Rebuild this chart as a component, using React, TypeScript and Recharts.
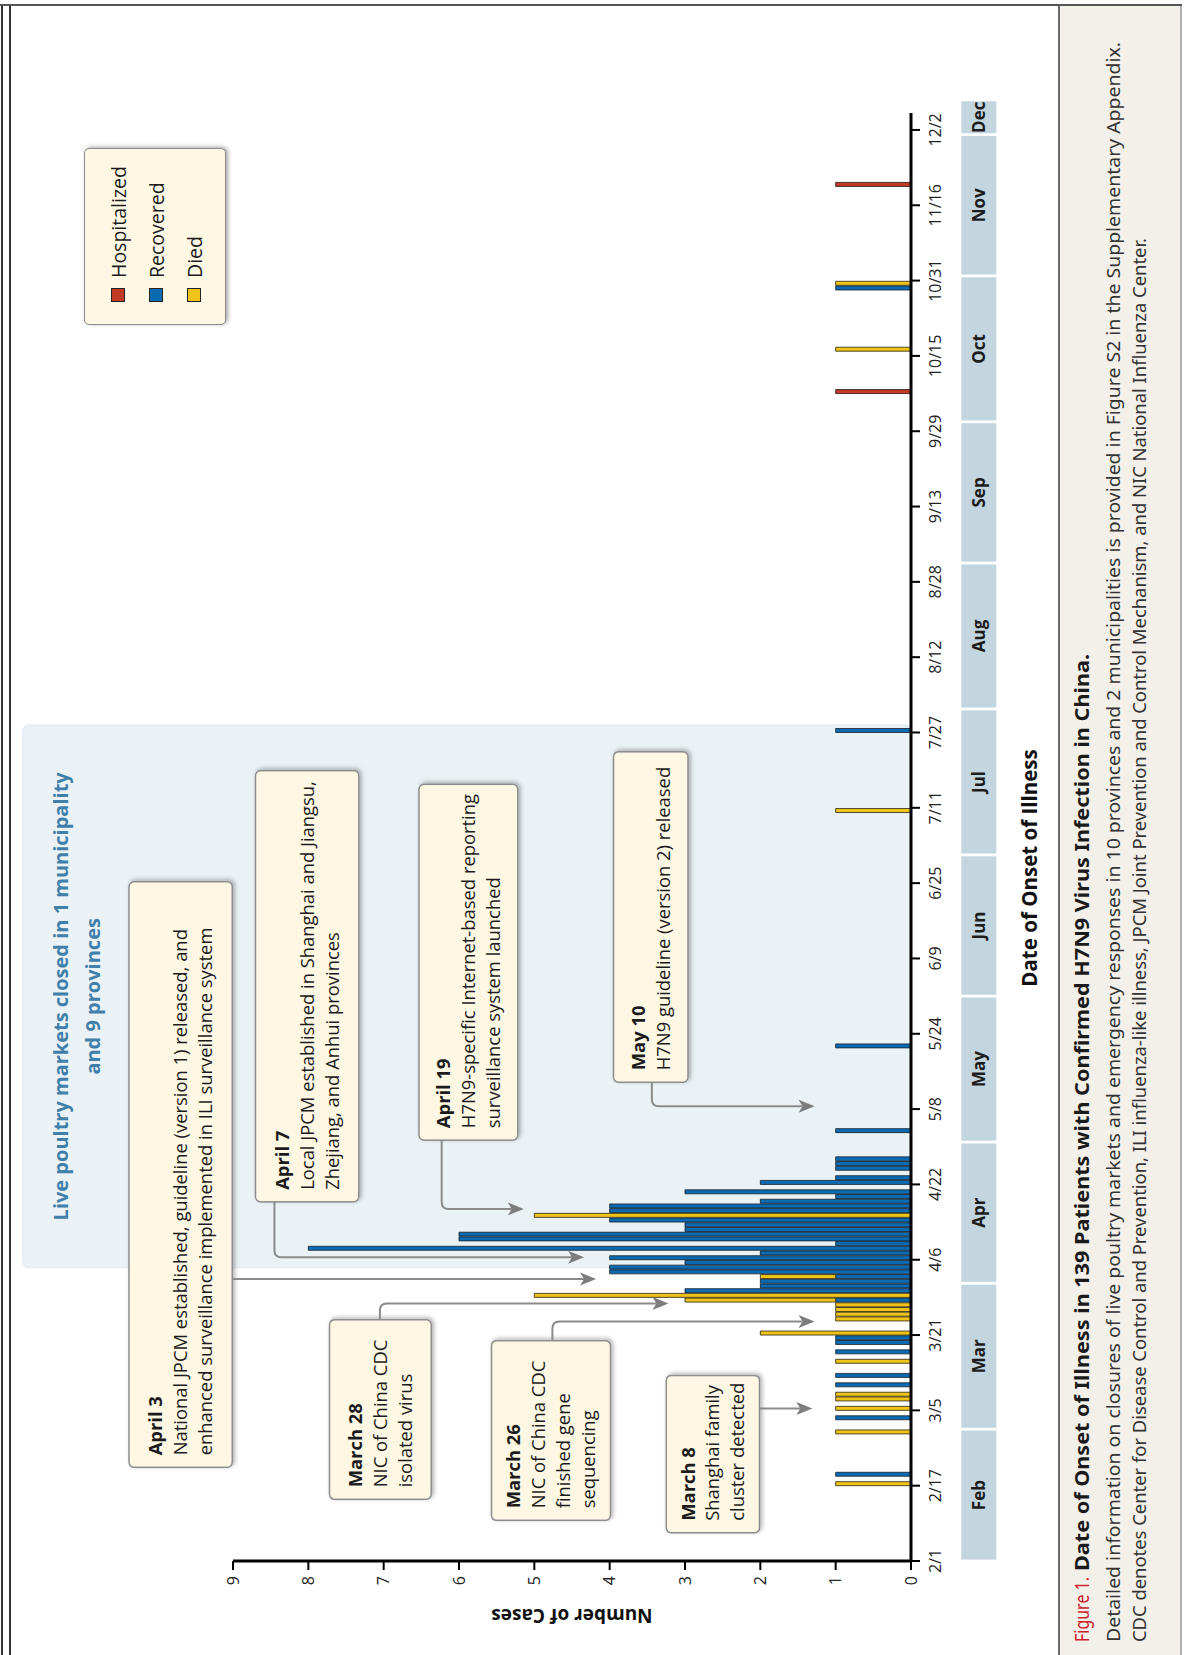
import React from 'react'
import { ComposedChart, Bar, XAxis, YAxis, ReferenceArea, ReferenceLine, Legend, Label } from 'recharts'

// one entry per day of onset
const onsetDates = [
  '2/17', '2/19', '2/28', '3/3', '3/5', '3/7', '3/8', '3/10', '3/12', '3/15',
  '3/17', '3/19', '3/20', '3/21', '3/24', '3/25', '3/26', '3/27', '3/28', '3/29',
  '3/30', '3/31', '4/1', '4/2', '4/3', '4/4', '4/5', '4/6', '4/7', '4/8',
  '4/9', '4/10', '4/11', '4/12', '4/13', '4/14', '4/15', '4/16', '4/17', '4/18',
  '4/19', '4/20', '4/22', '4/23', '4/25', '4/26', '4/27', '5/3', '5/21', '7/10',
  '7/27', '10/7', '10/16', '10/29', '10/30', '11/20',
]
const recovered = [
  0, 1, 0, 1, 0, 0, 0, 1, 1, 0,
  1, 1, 1, 0, 0, 0, 0, 0, 1, 0,
  3, 2, 2, 1, 4, 4, 3, 4, 2, 8,
  1, 6, 6, 3, 3, 4, 0, 4, 4, 2,
  1, 3, 2, 1, 1, 1, 1, 1, 1, 0,
  1, 0, 0, 1, 0, 0,
]
const died = [
  1, 0, 1, 0, 1, 1, 1, 0, 0, 1,
  0, 0, 0, 2, 1, 1, 1, 1, 2, 5,
  0, 0, 0, 1, 0, 0, 0, 0, 0, 0,
  0, 0, 0, 0, 0, 0, 5, 0, 0, 0,
  0, 0, 0, 0, 0, 0, 0, 0, 0, 1,
  0, 0, 1, 0, 1, 0,
]
const hospitalized = [
  0, 0, 0, 0, 0, 0, 0, 0, 0, 0,
  0, 0, 0, 0, 0, 0, 0, 0, 0, 0,
  0, 0, 0, 0, 0, 0, 0, 0, 0, 0,
  0, 0, 0, 0, 0, 0, 0, 0, 0, 0,
  0, 0, 0, 0, 0, 0, 0, 0, 0, 0,
  0, 1, 0, 0, 0, 1,
]

const tickDays = [0, 16, 32, 48, 64, 80, 96, 112, 128, 144, 160, 176, 192, 208, 224, 240, 256, 272, 288, 304]
const tickLabels = ['2/1', '2/17', '3/5', '3/21', '4/6', '4/22', '5/8', '5/24', '6/9', '6/25', '7/11', '7/27', '8/12', '8/28', '9/13', '9/29', '10/15', '10/31', '11/16', '12/2']
const valueTicks = [0, 1, 2, 3, 4, 5, 6, 7, 8, 9]

const monthNames = ['Feb', 'Mar', 'Apr', 'May', 'Jun', 'Jul', 'Aug', 'Sep', 'Oct', 'Nov', 'Dec']
const monthNums = [2, 3, 4, 5, 6, 7, 8, 9, 10, 11, 12]
// day index (from Feb 1, 2013) of each month's first day
const monthStart: Record<number, number> = { 2: 0, 3: 28, 4: 59, 5: 89, 6: 120, 7: 150, 8: 181, 9: 212, 10: 242, 11: 273, 12: 303, 13: 310.4 }

const legendNames = ['Hospitalized', 'Recovered', 'Died']

const BLUE = '#0b6bb2'
const YELLOW = '#efc318'
const RED = '#c23a25'
const FONT = "'Open Sans', 'Noto Sans', sans-serif"

const W = 1655
const H = 1185

const dayOf = (md: string) => {
  const [m, d] = md.split('/').map(Number)
  return monthStart[m] + d - 1
}

const chartData = onsetDates.map((md, i) => ({
  day: dayOf(md) + 0.5,
  recovered: recovered[i],
  died: died[i],
  hospitalized: hospitalized[i],
}))

const monthBands = monthNames.map((name, i) => ({
  name,
  from: monthStart[monthNums[i]],
  to: monthStart[monthNums[i] + 1],
}))

// annotation boxes: extents in chart units (days, cases), arrow from box edge to the event
const notes = [
  { x1: 19.9, x2: 144.3, y1: 9.01, y2: 10.38, lines: ['April 3', 'National JPCM established, guideline (version 1) released, and', 'enhanced surveillance implemented in ILI surveillance system'], from: { x: 59.9, y: 9.01 }, to: { x: 59.9, y: 4.18 } },
  { x1: 76.3, x2: 167.9, y1: 7.33, y2: 8.7, lines: ['April 7', 'Local JPCM established in Shanghai and Jiangsu,', 'Zhejiang, and Anhui provinces'], from: { x: 76.3, y: 8.45 }, to: { x: 64.5, y: 4.34 } },
  { x1: 89.4, x2: 165.0, y1: 5.22, y2: 6.53, lines: ['April 19', 'H7N9-specific Internet-based reporting', 'surveillance system launched'], from: { x: 89.4, y: 6.23 }, to: { x: 74.8, y: 5.14 } },
  { x1: 101.7, x2: 171.9, y1: 2.96, y2: 3.95, lines: ['May 10', 'H7N9 guideline (version 2) released'], from: { x: 101.7, y: 3.44 }, to: { x: 96.6, y: 1.28 } },
  { x1: 13.1, x2: 51.25, y1: 6.37, y2: 7.72, lines: ['March 28', 'NIC of China CDC', 'isolated virus'], from: { x: 51.25, y: 7.05 }, to: { x: 54.7, y: 3.22 } },
  { x1: 8.64, x2: 46.8, y1: 3.99, y2: 5.57, lines: ['March 26', 'NIC of China CDC', 'finished gene', 'sequencing'], from: { x: 46.8, y: 4.76 }, to: { x: 50.9, y: 1.28 } },
  { x1: 6.0, x2: 39.4, y1: 2.01, y2: 3.25, lines: ['March 8', 'Shanghai family', 'cluster detected'], from: { x: 32.4, y: 2.01 }, to: { x: 32.4, y: 1.31 } },
]

const closure = { x1: 62.3, x2: 177.6, y2: 11.79, lines: ['Live poultry markets closed in 1 municipality', 'and 9 provinces'] }

function NoteBox(props: any) {
  const { x, y, width, height, lines } = props
  const lh = 24.8
  const first = y + height / 2 - ((lines.length - 1) * lh) / 2 + 6.5
  return (
    <g>
      <rect x={x} y={y} width={width} height={height} rx={5} fill="#fdf7e4" stroke="#8d8d8d" strokeWidth={1.5} filter="url(#boxShadow)" />
      {lines.map((t: string, i: number) => (
        <text key={i} x={x + 12} y={first + i * lh} fontSize={18.4} fontWeight={i === 0 ? 700 : 400} fill="#1b1b1b" fontFamily={FONT}>
          {t}
        </text>
      ))}
    </g>
  )
}

function Leader(props: any) {
  const { x1, y1, x2, y2 } = props
  const r = 7
  const head = 15
  let d: string
  if (Math.abs(x1 - x2) < 1.5) {
    d = `M${x2},${y1} V${y2 - head + 3}`
  } else {
    const s = x2 > x1 ? 1 : -1
    d = `M${x1},${y1} H${x2 - s * r} Q${x2},${y1} ${x2},${y1 + r} V${y2 - head + 3}`
  }
  return (
    <g>
      <path d={d} fill="none" stroke="#8b8b8b" strokeWidth={2} />
      <path d={`M${x2},${y2} L${x2 - 6.5},${y2 - 16} L${x2},${y2 - 12} L${x2 + 6.5},${y2 - 16} Z`} fill="#7c7c7c" />
    </g>
  )
}

function MonthBand(props: any) {
  const { x, y, width, height, name } = props
  return (
    <g>
      <rect x={x} y={y} width={width} height={height} fill="#c3d5df" />
      <text x={x + width / 2} y={y + height / 2 + 6} textAnchor="middle" fontSize={17} fontWeight={700} fill="#1c1c1c" fontFamily={FONT}>
        {name}
      </text>
    </g>
  )
}

function ClosureArea(props: any) {
  const { x, y, width, height } = props
  return (
    <g>
      <rect x={x} y={y} width={width} height={height} rx={6} fill="#eaf2f6" stroke="#dde8ee" strokeWidth={1} />
      {closure.lines.map((t, i) => (
        <text key={i} x={x + width / 2} y={y + 45 + i * 32} textAnchor="middle" fontSize={20} fontWeight={700} fill="#3f7fa9" fontFamily={FONT}>
          {t}
        </text>
      ))}
    </g>
  )
}

function LegendBox() {
  const colors = [RED, BLUE, YELLOW]
  return (
    <div style={{ width: 177, height: 142, boxSizing: 'border-box', background: '#fdf7e4', border: '1.5px solid #8d8d8d', borderRadius: 5, boxShadow: '1px 2px 4px rgba(0,0,0,0.35)', paddingTop: 14, paddingLeft: 22, fontFamily: FONT }}>
      {legendNames.map((n, i) => (
        <div key={n} style={{ display: 'flex', alignItems: 'center', height: 38 }}>
          <span style={{ width: 12, height: 12, background: colors[i], border: '1px solid #222', marginRight: 10 }} />
          <span style={{ fontSize: 19.5, color: '#1b1b1b' }}>{n}</span>
        </div>
      ))}
    </div>
  )
}

function DateLabel(props: any) {
  const vb = props.viewBox
  return (
    <text x={vb.x + vb.width * 0.4786} y={vb.y + 126} textAnchor="middle" fontSize={20.5} fontWeight={700} fill="#111" fontFamily={FONT}>
      Date of Onset of Illness
    </text>
  )
}

function CasesLabel(props: any) {
  const vb = props.viewBox
  const cx = vb.x + 39
  const cy = vb.y + vb.height / 2
  return (
    <text x={cx} y={cy} transform={`rotate(-90 ${cx} ${cy})`} textAnchor="middle" dominantBaseline="central" fontSize={19} fontWeight={700} fill="#111" fontFamily={FONT}>
      Number of Cases
    </text>
  )
}

function FigureFrame() {
  return (
    <svg width={W} height={H} style={{ position: 'absolute', left: 0, top: 0 }}>
      <defs>
        <filter id="boxShadow" x="-10%" y="-10%" width="130%" height="130%">
          <feDropShadow dx="1.5" dy="2" stdDeviation="2" floodColor="#000" floodOpacity="0.3" />
        </filter>
      </defs>
      <rect x={0} y={1059} width={1650} height={122} fill="#f3f0ea" />
      <line x1={0} x2={1650} y1={1059} y2={1059} stroke="#6a6a6a" strokeWidth={2} />
      <line x1={0} x2={1650} y1={1181} y2={1181} stroke="#9a9a9a" strokeWidth={1.5} />
      <line x1={0} x2={1650} y1={2} y2={2} stroke="#333" strokeWidth={2} />
      <line x1={0} x2={1650} y1={10} y2={10} stroke="#333" strokeWidth={2} />
      <line x1={1650} x2={1650} y1={0} y2={1182} stroke="#555" strokeWidth={2} />
      <text x={13} y={1089} fontSize={19} fill="#cf2230" fontFamily="'Noto Sans', sans-serif" textLength={65} lengthAdjust="spacingAndGlyphs">
        Figure 1.
      </text>
      <text x={84} y={1089} fontSize={19} fontWeight={700} fill="#1a1a1a" fontFamily="'Noto Sans', sans-serif" textLength={917} lengthAdjust="spacingAndGlyphs">
        Date of Onset of Illness in 139 Patients with Confirmed H7N9 Virus Infection in China.
      </text>
      <text x={13} y={1120} fontSize={18} fill="#333" fontFamily="'Noto Sans', sans-serif" textLength={1600} lengthAdjust="spacingAndGlyphs">
        Detailed information on closures of live poultry markets and emergency responses in 10 provinces and 2 municipalities is provided in Figure S2 in the Supplementary Appendix.
      </text>
      <text x={13} y={1146} fontSize={18} fill="#333" fontFamily="'Noto Sans', sans-serif" textLength={1404} lengthAdjust="spacingAndGlyphs">
        CDC denotes Center for Disease Control and Prevention, ILI influenza-like illness, JPCM Joint Prevention and Control Mechanism, and NIC National Influenza Center.
      </text>
    </svg>
  )
}

export default function App() {
  return (
    <div style={{ position: 'absolute', left: 0, top: 0, width: 1185, height: 1655, overflow: 'hidden', background: '#fff' }}>
      <style>{'body{margin:0;overflow:hidden}'}</style>
      <div style={{ position: 'absolute', left: 0, top: 0, width: W, height: H, transformOrigin: '0 0', transform: `translateY(${W}px) rotate(-90deg)` }}>
        <FigureFrame />
        <div style={{ position: 'absolute', left: 0, top: 0 }}>
          <ComposedChart width={W} height={H} data={chartData} margin={{ top: 233, right: 113, bottom: 244, left: 0 }} style={{ fontFamily: FONT }}>
            <ReferenceArea x1={closure.x1} x2={closure.x2} y1={0} y2={closure.y2} ifOverflow="visible" shape={(p: any) => <ClosureArea {...p} />} />
            {monthBands.map((m) => (
              <ReferenceArea key={m.name} x1={m.from + 0.3} x2={m.to - 0.3} y1={-0.668} y2={-1.133} ifOverflow="visible" shape={(p: any) => <MonthBand {...p} name={m.name} />} />
            ))}
            <XAxis
              type="number"
              dataKey="day"
              domain={[0, 307.6]}
              ticks={tickDays}
              tickFormatter={(v: number) => tickLabels[tickDays.indexOf(v)]}
              interval={0}
              height={30}
              axisLine={{ stroke: '#000', strokeWidth: 3 }}
              tickLine={{ stroke: '#000', strokeWidth: 2 }}
              tickSize={9}
              tickMargin={10}
              tick={{ fontSize: 16, fill: '#222' }}
              allowDataOverflow
            >
              <Label content={(p: any) => <DateLabel {...p} />} />
            </XAxis>
            <YAxis
              type="number"
              domain={[0, 9]}
              ticks={valueTicks}
              interval={0}
              width={94}
              axisLine={{ stroke: '#000', strokeWidth: 3 }}
              tickLine={{ stroke: '#000', strokeWidth: 2 }}
              tickSize={9}
              tickMargin={6}
              tick={{ fontSize: 16, fill: '#222' }}
              allowDataOverflow
            >
              <Label content={(p: any) => <CasesLabel {...p} />} />
            </YAxis>
            <Bar dataKey="recovered" stackId="a" fill={BLUE} stroke="#16202a" strokeWidth={0.8} barSize={4} isAnimationActive={false} />
            <Bar dataKey="died" stackId="a" fill={YELLOW} stroke="#2a2410" strokeWidth={0.8} barSize={4} isAnimationActive={false} />
            <Bar dataKey="hospitalized" stackId="a" fill={RED} stroke="#2a1510" strokeWidth={0.8} barSize={4} isAnimationActive={false} />
            {notes.map((n, i) => (
              <ReferenceLine key={`l${i}`} segment={[n.from, n.to]} ifOverflow="visible" shape={(p: any) => <Leader {...p} />} />
            ))}
            {notes.map((n, i) => (
              <ReferenceArea key={`n${i}`} x1={n.x1} x2={n.x2} y1={n.y1} y2={n.y2} ifOverflow="visible" shape={(p: any) => <NoteBox {...p} lines={n.lines} />} />
            ))}
            <Legend
              verticalAlign="middle"
              align="center"
              layout="horizontal"
              wrapperStyle={{ left: 1330, top: 84, width: 177, height: 142 }}
              content={() => <LegendBox />}
            />
          </ComposedChart>
        </div>
      </div>
    </div>
  )
}
